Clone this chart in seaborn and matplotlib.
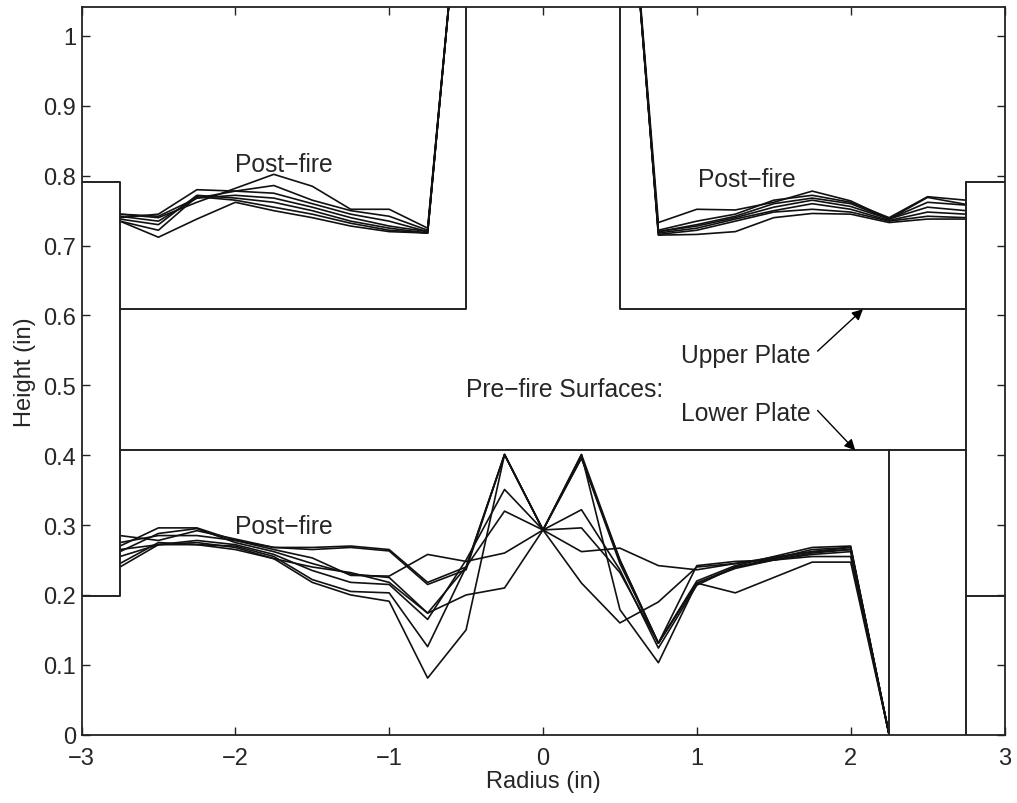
import pandas as pd
import matplotlib.pyplot as plt
import seaborn as sns

sns.set_style('ticks')
plt.rcParams['font.family'] = ['Liberation Sans', 'DejaVu Sans']

# radial stations
r_upper_left = [-2.75, -2.5, -2.25, -2, -1.75, -1.5, -1.25, -1, -0.75, -0.5]
r_upper_right = [0.5, 0.75, 1, 1.25, 1.5, 1.75, 2, 2.25, 2.5, 2.75]
r_lower = [-2.75, -2.5, -2.25, -2, -1.75, -1.5, -1.25, -1, -0.75, -0.5, -0.25,
           0, 0.25, 0.5, 0.75, 1, 1.25, 1.5, 1.75, 2, 2.25]

# post-fire upper plate, left of centre
upper_left = [
    [.745, .740, .762, .782, .802, .785, .752, .752, .725, 1.31],
    [.740, .745, .780, .778, .786, .765, .750, .742, .722, 1.31],
    [.745, .742, .768, .778, .775, .760, .745, .735, .720, 1.31],
    [.742, .735, .768, .772, .768, .755, .740, .728, .720, 1.31],
    [.738, .730, .772, .768, .762, .750, .735, .725, .718, 1.31],
    [.735, .722, .770, .765, .755, .745, .732, .722, .718, 1.31],
    [.735, .712, .738, .762, .750, .740, .728, .720, .718, 1.31],
]

# post-fire upper plate, right of centre
upper_right = [
    [1.41, .733, .752, .751, .762, .778, .764, .738, .769, .759],
    [1.41, .722, .735, .745, .765, .772, .762, .740, .770, .765],
    [1.41, .720, .730, .742, .760, .768, .760, .738, .762, .758],
    [1.41, .720, .728, .740, .755, .765, .756, .738, .755, .750],
    [1.41, .718, .725, .738, .750, .760, .752, .736, .748, .745],
    [1.41, .716, .722, .735, .748, .752, .748, .735, .742, .740],
    [1.41, .715, .716, .720, .740, .746, .745, .733, .738, .738],
]

# post-fire lower plate
lower = [
    [.240, .272, .275, .268, .252, .218, .200, .191, .081, .150, .401, .293,
     .401, .179, .103, .217, .203, .225, .247, .247, 0],
    [.245, .275, .272, .270, .255, .222, .205, .203, .126, .240, .401, .293,
     .401, .250, .131, .217, .238, .250, .258, .262, 0],
    [.255, .272, .278, .272, .258, .235, .218, .215, .165, .250, .351, .293,
     .322, .236, .124, .214, .240, .250, .260, .265, 0],
    [.262, .288, .295, .275, .262, .245, .230, .225, .174, .200, .210, .293,
     .217, .160, .190, .240, .245, .252, .262, .268, 0],
    [.275, .285, .285, .278, .268, .265, .268, .263, .215, .236, .401, .293,
     .396, .250, .131, .217, .240, .252, .265, .268, 0],
    [.285, .278, .292, .280, .268, .268, .270, .265, .218, .240, .401, .293,
     .396, .245, .131, .220, .242, .255, .268, .270, 0],
    [.270, .296, .296, .278, .265, .253, .228, .227, .258, .248, .260, .293,
     .262, .267, .242, .236, .245, .254, .262, .265, 0],
    [.265, .272, .272, .265, .252, .240, .232, .218, .174, .240, .320, .293,
     .296, .232, .131, .242, .248, .250, .255, .255, 0],
]

# pre-fire surfaces
upper_left_r = [-3, -2.75, -2.75, -0.5, -0.5]
upper_left_h = [.791, .791, .609, .609, 1.06]
upper_right_r = [0.5, 0.5, 2.75, 2.75, 3]
upper_right_h = [1.06, .609, .609, .791, .791]
lower_r = [-3, -2.75, -2.75, 2.75]
lower_h = [.199, .199, .407, .407]
step_r = [2.25, 2.25]
step_h = [.407, 0]
wall_r = [2.75, 2.75, 3]
wall_h = [0, .199, .199]
wall_top_r = [2.75, 2.75]
wall_top_h = [.199, .791]
left_wall_r = [-2.75, -2.75]
left_wall_h = [.407, .609]

x_ticks = [-3, -2, -1, 0, 1, 2, 3]
y_ticks = [0, .1, .2, .3, .4, .5, .6, .7, .8, .9, 1]
y_labels = ['0', '0.1', '0.2', '0.3', '0.4', '0.5', '0.6', '0.7', '0.8', '0.9', '1']


def long_table(r, rows):
    frames = []
    for i, row in enumerate(rows):
        frames.append(pd.DataFrame({'r': r, 'h': row, 'run': i}))
    return pd.concat(frames)


fig = plt.figure(figsize=(10.17, 8.04), dpi=100)
ax = fig.add_axes([81.5 / 1017, 1 - 735.7 / 804, 923 / 1017, 727.7 / 804])

for r, rows in [(r_upper_left, upper_left), (r_upper_right, upper_right), (r_lower, lower)]:
    sns.lineplot(data=long_table(r, rows), x='r', y='h', units='run', estimator=None,
                 color='#111111', lw=1.2, sort=False, ax=ax)

surfaces = [(upper_left_r, upper_left_h), (upper_right_r, upper_right_h), (lower_r, lower_h),
            (step_r, step_h), (wall_r, wall_h), (wall_top_r, wall_top_h), (left_wall_r, left_wall_h)]
for r, h in surfaces:
    sns.lineplot(x=r, y=h, color='#222222', lw=1.4, sort=False, estimator=None, ax=ax)

ax.set_xlim(-3, 3)
ax.set_ylim(0, 1.0415)
ax.set_xticks(x_ticks)
ax.set_yticks(y_ticks)
ax.set_yticklabels(y_labels)
ax.set_xlabel('Radius (in)', fontsize=17)
ax.set_ylabel('Height (in)', fontsize=17)
ax.xaxis.set_label_coords(0.5, -35 / 727.7)
ax.yaxis.set_label_coords(-45 / 923, 0.5)
ax.tick_params(direction='in', length=6, width=1.0, top=True, right=True, labelsize=17, color='#222222')
ax.tick_params(axis='x', pad=8.5)
ax.tick_params(axis='y', pad=4)
for side in ax.spines.values():
    side.set_linewidth(1.3)
    side.set_color('#222222')

ax.text(-2.0, .817, 'Post\u2212fire', fontsize=17.7, va='center')
ax.text(1.005, .795, 'Post\u2212fire', fontsize=17.7, va='center')
ax.text(-2.0, .299, 'Post\u2212fire', fontsize=17.7, va='center')
ax.text(-0.50, .495, 'Pre\u2212fire Surfaces:', fontsize=17.7, va='center')
ax.text(.90, .543, 'Upper Plate', fontsize=17.7, va='center')
ax.text(.90, .460, 'Lower Plate', fontsize=17.7, va='center')
ax.annotate('', xy=(2.08, .609), xytext=(1.785, .549),
            arrowprops=dict(arrowstyle='-|>', color='black', lw=1, shrinkA=0, shrinkB=0, mutation_scale=16))
ax.annotate('', xy=(2.03, .407), xytext=(1.785, .464),
            arrowprops=dict(arrowstyle='-|>', color='black', lw=1, shrinkA=0, shrinkB=0, mutation_scale=16))

plt.savefig('out.png', dpi=100)
plt.close()
